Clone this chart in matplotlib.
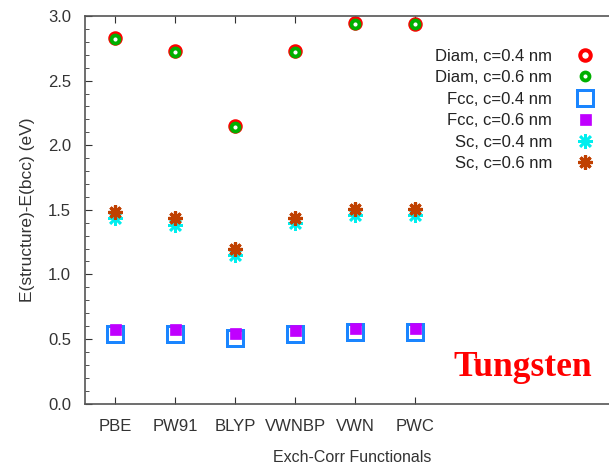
import matplotlib
matplotlib.use("Agg")
import matplotlib.pyplot as plt
from matplotlib.ticker import MultipleLocator

plt.rcParams["font.family"] = ["Liberation Sans", "DejaVu Sans"]

functionals = ["PBE", "PW91", "BLYP", "VWNBP", "VWN", "PWC"]
diam_04 = [2.83, 2.73, 2.15, 2.73, 2.945, 2.94]
diam_06 = [2.82, 2.72, 2.14, 2.72, 2.94, 2.935]
fcc_04 = [0.54, 0.54, 0.507, 0.54, 0.556, 0.556]
fcc_06 = [0.58, 0.58, 0.546, 0.571, 0.588, 0.588]
sc_04 = [1.44, 1.38, 1.15, 1.395, 1.46, 1.46]
sc_06 = [1.485, 1.434, 1.196, 1.44, 1.503, 1.503]

x = list(range(1, len(functionals) + 1))

fig = plt.figure(figsize=(6.09, 4.66), dpi=100)
ax = fig.add_axes([85 / 609, (466 - 403.5) / 466, 535 / 609, (403.5 - 16) / 466])

px = 0.72
ax.plot(x, diam_04, ls="none", marker="o", ms=10.5 * px, mfc="white", mec="#ff0000", mew=4 * px,
        label="Diam, c=0.4 nm")
ax.plot(x, diam_06, ls="none", marker="o", ms=8 * px, mfc="white", mec="#00b000", mew=3.8 * px,
        label="Diam, c=0.6 nm")
ax.plot(x, fcc_04, ls="none", marker="s", ms=16 * px, mfc="white", mec="#1a85ff", mew=3 * px,
        label="Fcc, c=0.4 nm")
ax.plot(x, fcc_06, ls="none", marker="s", ms=11 * px, mfc="#c000ff", mec="#c000ff", mew=0.5,
        label="Fcc, c=0.6 nm")
ax.plot(x, sc_04, ls="none", marker=(8, 2, 0), ms=15 * px, mec="#00eeee", mew=2.6 * px,
        label="Sc, c=0.4 nm")
ax.plot(x, sc_06, ls="none", marker=(8, 2, 0), ms=14 * px, mec="#c04000", mew=3.2 * px,
        label="Sc, c=0.6 nm")

ax.set_xlim(0.5, 0.5 + 535 / 60)
ax.set_ylim(0, 3.0)
ax.set_xticks(x)
ax.set_xticklabels(functionals)
ax.yaxis.set_major_locator(MultipleLocator(0.5))
ax.yaxis.set_minor_locator(MultipleLocator(0.1))
ax.yaxis.set_major_formatter(matplotlib.ticker.FormatStrFormatter("%.1f"))

for s in ["left", "bottom", "top", "right"]:
    ax.spines[s].set_color("#555555")
    ax.spines[s].set_linewidth(1.2)

ax.tick_params(axis="both", which="both", direction="in", colors="#333333", labelsize=12,
               top=True, right=False)
ax.tick_params(axis="both", which="major", length=5, pad=11)
ax.tick_params(axis="y", which="major", pad=10)
ax.tick_params(axis="y", which="minor", length=3)

ax.set_xlabel("Exch-Corr Functionals", fontsize=11.5, color="#333333", labelpad=12)
ax.set_ylabel("E(structure)-E(bcc) (eV)", fontsize=12.5, color="#333333", labelpad=9)

leg = ax.legend(loc="upper right", bbox_to_anchor=(602 / 609, 1 - 40.5 / 466),
                bbox_transform=fig.transFigure, frameon=False, markerfirst=False,
                fontsize=12, labelspacing=0.39, handlelength=1.0, handletextpad=1.5,
                borderpad=0, labelcolor="#222222")

fig.text(523 / 609, 1 - 367 / 466, "Tungsten", color="#ff0000", fontsize=25.5,
         fontweight="bold", family="Liberation Serif", ha="center", va="center")

fig.savefig("out.png", dpi=100)
